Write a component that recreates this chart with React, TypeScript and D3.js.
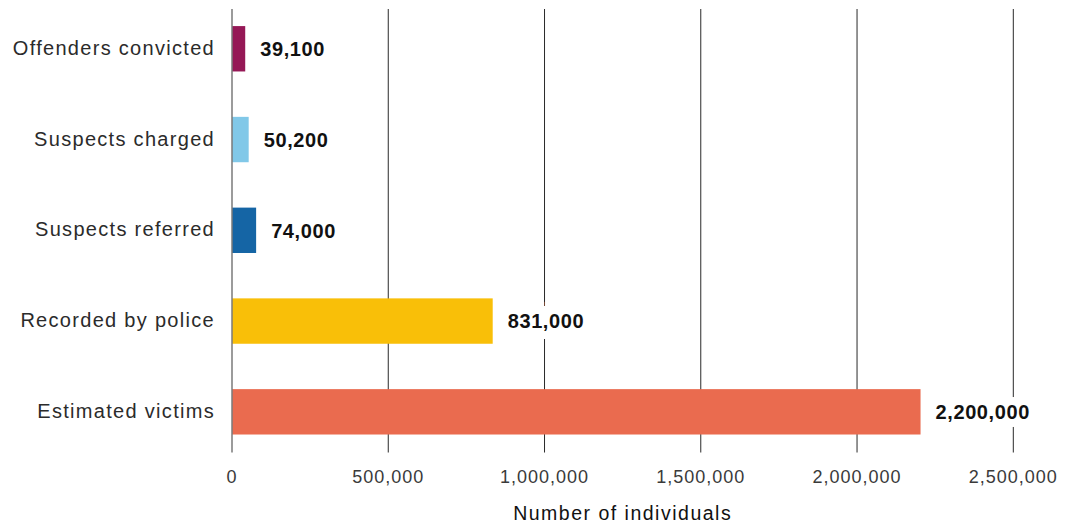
import React from "react";
import * as d3 from "d3";

const categories = [
  "Offenders convicted",
  "Suspects charged",
  "Suspects referred",
  "Recorded by police",
  "Estimated victims",
];
const values = [39100, 50200, 74000, 831000, 2200000];
const valueLabels = ["39,100", "50,200", "74,000", "831,000", "2,200,000"];
const colors = ["#951856", "#81C8E8", "#1565A5", "#F9BF08", "#EA6B4F"];
const ticks = [0, 500000, 1000000, 1500000, 2000000, 2500000];
const axisTitle = "Number of individuals";

const W = 1077;
const H = 525;

export default function App() {
  const x = d3.scaleLinear().domain([0, 2500000]).range([232, 1013.3]);
  const y = d3
    .scaleBand<string>()
    .domain(categories)
    .range([3.4, 457.2])
    .paddingInner(0.5)
    .paddingOuter(0.25);
  const gridTop = 9;
  const gridBottom = 452.5;
  const fmt = d3.format(",");
  const font = "'Liberation Sans', Arial, Helvetica, sans-serif";

  return (
    <svg
      width={W}
      height={H}
      style={{ position: "absolute", left: 0, top: 0, background: "#fff" }}
      fontFamily={font}
    >
      <rect x={0} y={0} width={W} height={H} fill="#fff" />
      {/* gridlines */}
      {ticks.map((t) =>
        t === 0 ? null : (
          <line
            key={"g" + t}
            x1={x(t)}
            x2={x(t)}
            y1={gridTop}
            y2={gridBottom}
            stroke="#2a2a2a"
            strokeWidth={1}
          />
        )
      )}
      {/* bars */}
      {categories.map((c, i) => (
        <rect
          key={"b" + c}
          x={x(0)}
          y={y(c)!}
          width={x(values[i]) - x(0) + 1}
          height={y.bandwidth()}
          fill={colors[i]}
        />
      ))}
      {/* zero line */}
      <line
        x1={x(0)}
        x2={x(0)}
        y1={gridTop}
        y2={gridBottom}
        stroke="#7a7a7a"
        strokeWidth={1.5}
      />
      {/* category labels */}
      {categories.map((c) => (
        <text
          key={"c" + c}
          x={x(0) - 17}
          y={y(c)! + y.bandwidth() / 2}
          dy="0.3em"
          textAnchor="end"
          fontSize={20}
          letterSpacing={1.3}
          fill="#2b2b2b"
          fontWeight={300}
        >
          {c}
        </text>
      ))}
      {/* value labels */}
      {categories.map((c, i) => (
        <text
          key={"v" + c}
          x={x(values[i]) + 16}
          y={y(c)! + y.bandwidth() / 2}
          dy="0.36em"
          fontSize={20}
          fontWeight="bold"
          letterSpacing={0.6}
          fill="#111"
          stroke="#fff"
          strokeWidth={16}
          strokeLinejoin="miter"
          paintOrder="stroke"
        >
          {valueLabels[i]}
        </text>
      ))}
      {/* tick labels */}
      {ticks.map((t) => (
        <text
          key={"t" + t}
          x={x(t)}
          y={482.7}
          textAnchor="middle"
          fontSize={18}
          letterSpacing={1.0}
          fill="#3a3a3a"
        >
          {fmt(t)}
        </text>
      ))}
      {/* axis title */}
      <text
        x={(x(0) + x(2500000)) / 2}
        y={520}
        textAnchor="middle"
        fontSize={19.5}
        letterSpacing={1.5}
        fill="#111"
      >
        {axisTitle}
      </text>
    </svg>
  );
}
